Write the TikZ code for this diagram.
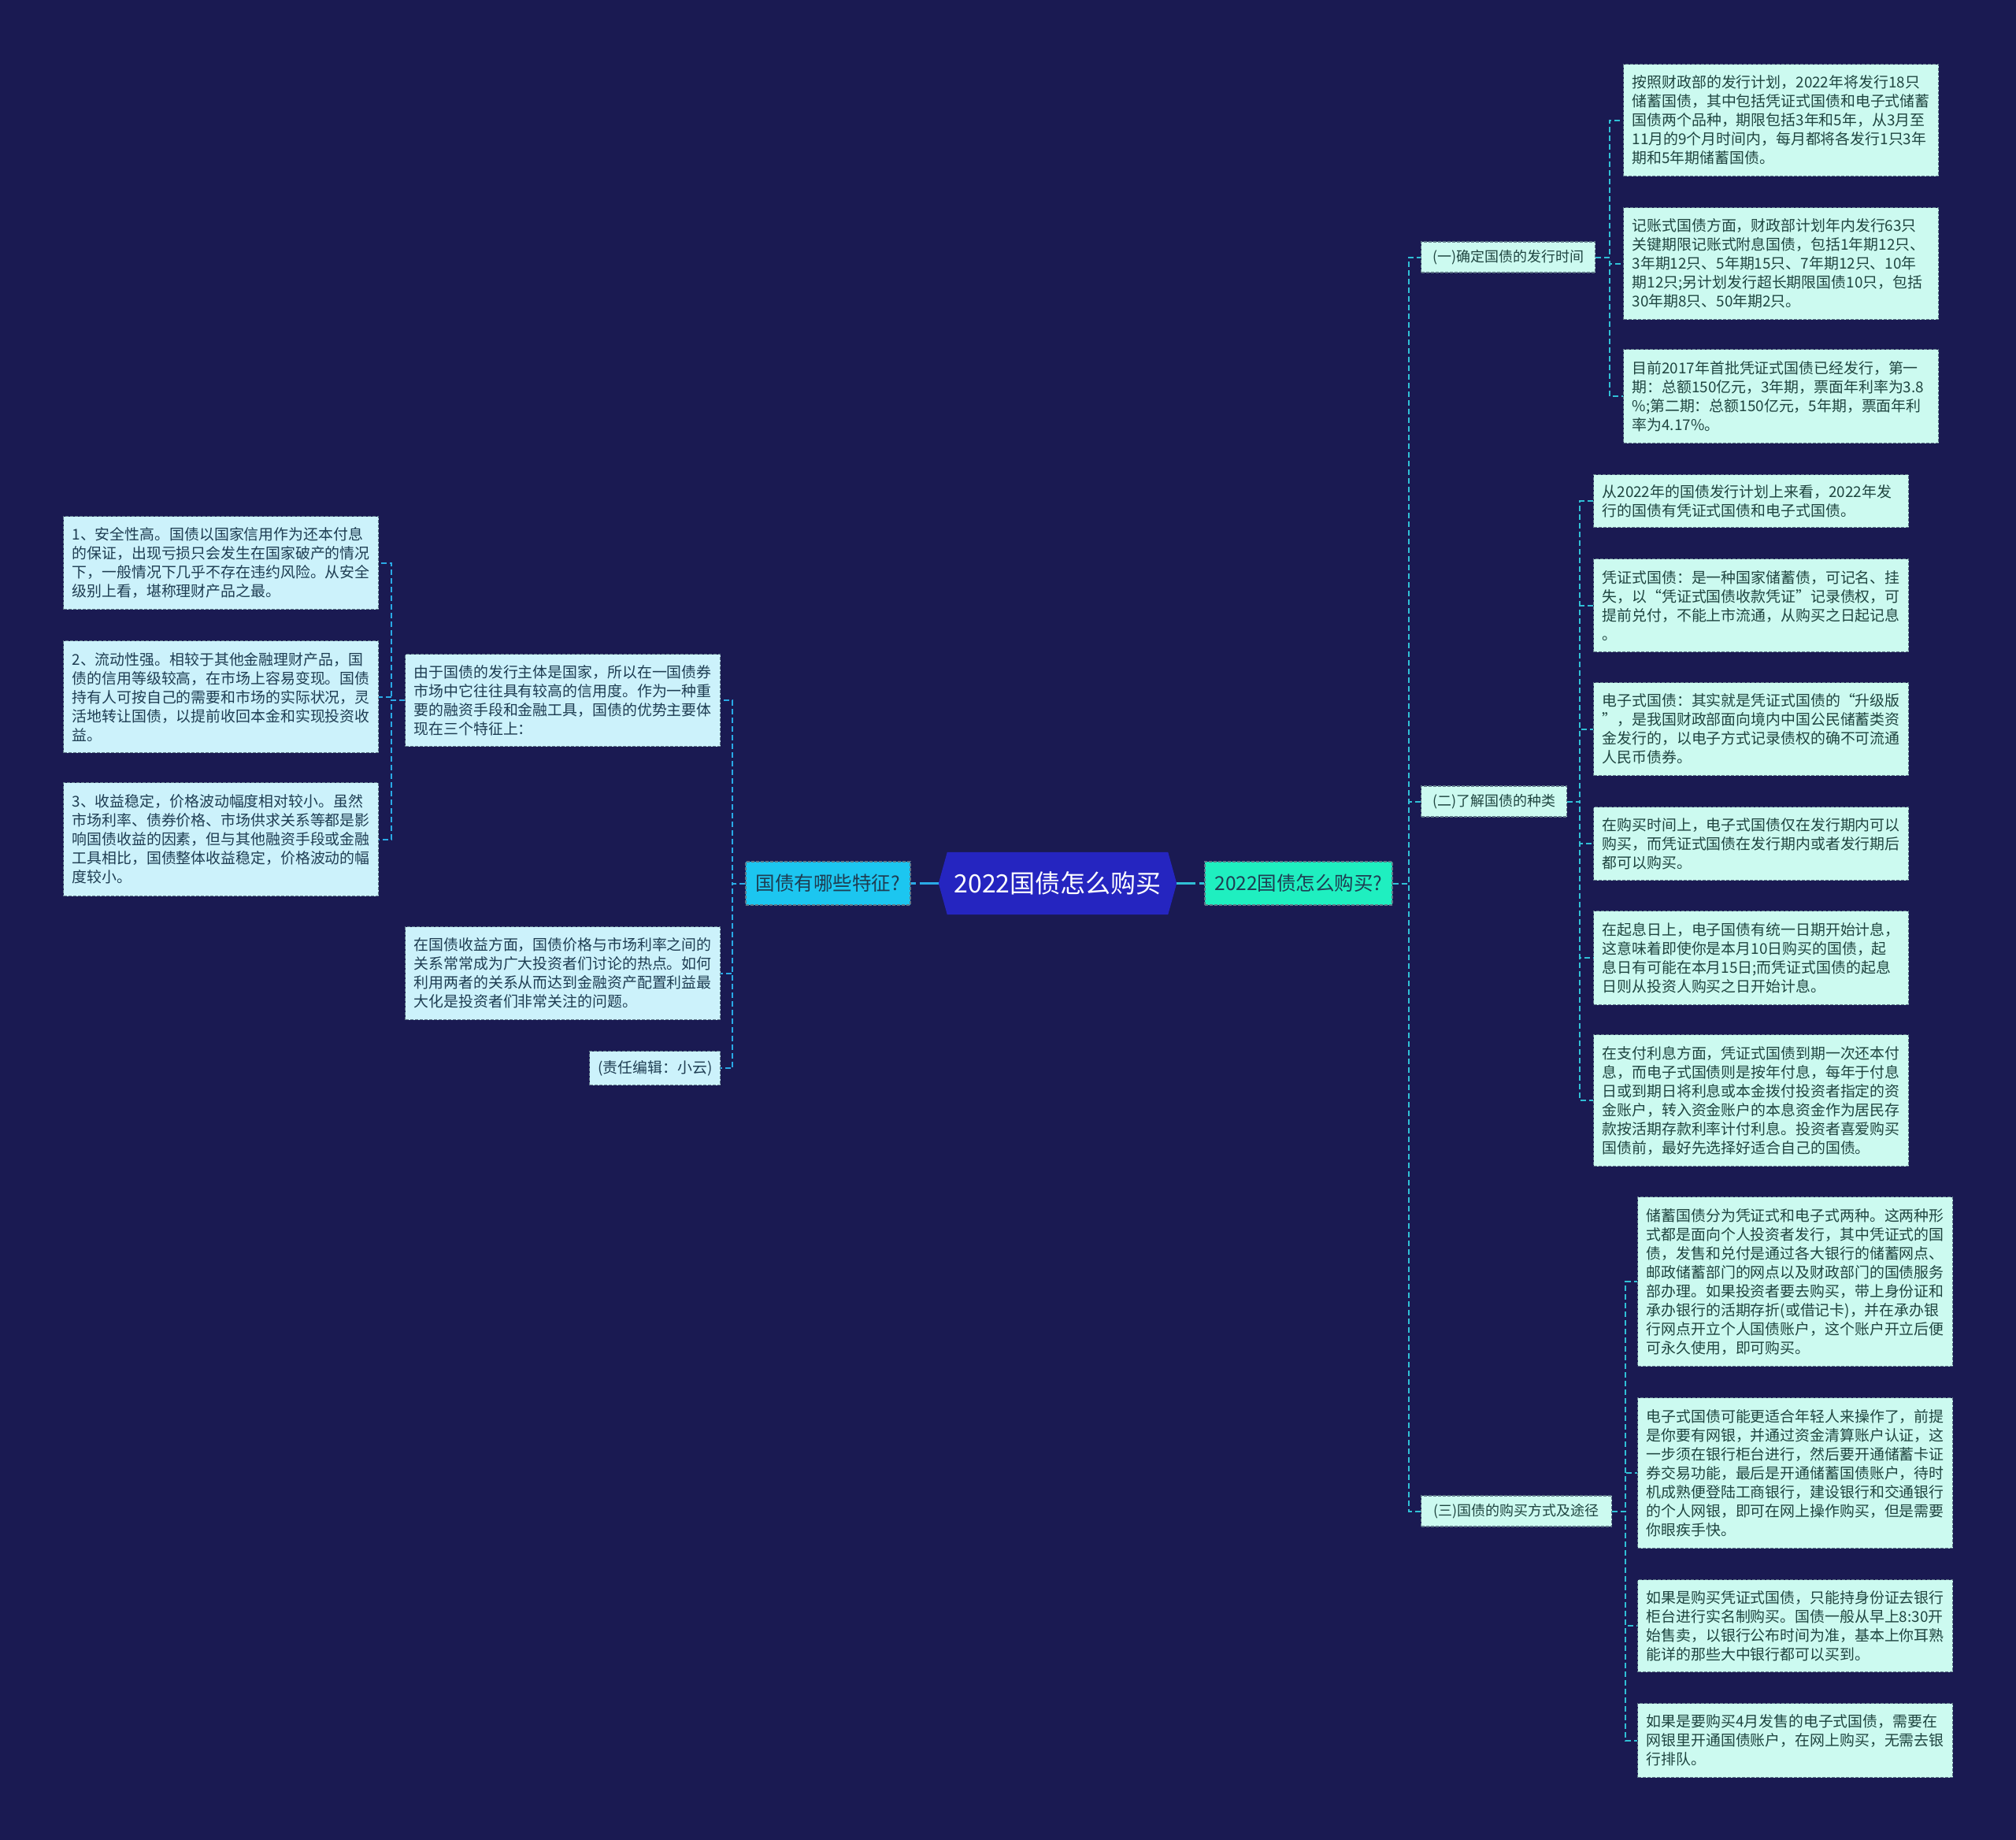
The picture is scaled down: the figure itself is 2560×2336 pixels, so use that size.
\documentclass[tikz,border=0pt]{standalone}
\usepackage{fontspec}
\setmainfont{Noto Sans CJK SC}
\usetikzlibrary{backgrounds}
\definecolor{bgc}{HTML}{1A1A52}
\definecolor{cfill}{HTML}{2525C0}
\definecolor{qlfill}{HTML}{1CC6F0}
\definecolor{qrfill}{HTML}{1FEFC0}
\definecolor{rfill}{HTML}{CCFAF0}
\definecolor{lfill}{HTML}{CCF2FB}
\definecolor{txt}{HTML}{1F4540}
\definecolor{ltxt}{HTML}{1E3D52}
\definecolor{bordc}{HTML}{5F7888}
\definecolor{rline}{HTML}{30C0D6}
\definecolor{lline}{HTML}{2AAAE6}
\tikzset{
  rbox/.style={draw=bordc, line width=1.2pt, dash pattern=on 4pt off 2pt, fill=rfill, text=txt,
    font=\fontsize{18.9}{24}\selectfont, text width=378pt, align=left,
    inner xsep=11pt, inner ysep=0pt, anchor=north west},
  lbox/.style={rbox, fill=lfill, text=ltxt},
  subbox/.style={draw=bordc, line width=1.2pt, dash pattern=on 4pt off 2pt, fill=rfill, text=txt,
    font=\fontsize{18}{20}\selectfont, inner xsep=8pt, inner ysep=0pt, minimum height=39pt, anchor=west},
  topbox/.style={draw=bordc, line width=1.2pt, dash pattern=on 4pt off 2pt, text=ltxt,
    font=\fontsize{24.5}{28}\selectfont, inner sep=0pt, minimum height=55pt},
  cnode/.style={text=white, font=\fontsize{32}{36}\selectfont, inner sep=0pt,
    minimum width=302pt, minimum height=79pt},
  rconn/.style={draw=rline, line width=2pt, dash pattern=on 7pt off 4pt},
  lconn/.style={draw=lline, line width=2pt, dash pattern=on 7pt off 4pt},
  mainconn/.style={line width=3pt, dash pattern=on 6pt off 5pt on 40pt off 5pt},
}
\begin{document}
\begin{tikzpicture}[x=1pt,y=-1pt]
\useasboundingbox (0,0) rectangle (2560,2336);

% centre
\node[cnode] (c) at (1343,1121.5) {2022国债怎么购买};
\node[topbox, fill=qlfill, minimum width=209pt] (ql) at (1051.5,1121.5) {国债有哪些特征?};
\node[topbox, fill=qrfill, minimum width=238pt] (qr) at (1649,1121.5) {2022国债怎么购买?};

% right level 2
\node[subbox, minimum width=221pt] (s1) at (1804,326.5) {(一)确定国债的发行时间};
\node[subbox, minimum width=185pt] (s2) at (1804,1017.5) {(二)了解国债的种类};
\node[subbox, minimum width=242pt] (s3) at (1804,1918.5) {(三)国债的购买方式及途径};

% (一) children
\node[rbox, minimum height=142pt] (t1) at (2061,81) {按照财政部的发行计划，2022年将发行18只\\储蓄国债，其中包括凭证式国债和电子式储蓄\\国债两个品种，期限包括3年和5年，从3月至\\11月的9个月时间内，每月都将各发行1只3年\\期和5年期储蓄国债。};
\node[rbox, minimum height=142pt] (t2) at (2061,263) {记账式国债方面，财政部计划年内发行63只\\关键期限记账式附息国债，包括1年期12只、\\3年期12只、5年期15只、7年期12只、10年\\期12只;另计划发行超长期限国债10只，包括\\30年期8只、50年期2只。};
\node[rbox, minimum height=119pt] (t3) at (2061,443) {目前2017年首批凭证式国债已经发行，第一\\期：总额150亿元，3年期，票面年利率为3.8\\\%;第二期：总额150亿元，5年期，票面年利\\率为4.17\%。};

% (二) children
\node[rbox, minimum height=67pt] (u1) at (2023,602) {从2022年的国债发行计划上来看，2022年发\\行的国债有凭证式国债和电子式国债。};
\node[rbox, minimum height=118pt] (u2) at (2023,709) {凭证式国债：是一种国家储蓄债，可记名、挂\\失，以“凭证式国债收款凭证”记录债权，可\\提前兑付，不能上市流通，从购买之日起记息\\。};
\node[rbox, minimum height=118pt] (u3) at (2023,866) {电子式国债：其实就是凭证式国债的“升级版\\”，是我国财政部面向境内中国公民储蓄类资\\金发行的，以电子方式记录债权的确不可流通\\人民币债券。};
\node[rbox, minimum height=93pt] (u4) at (2023,1024) {在购买时间上，电子式国债仅在发行期内可以\\购买，而凭证式国债在发行期内或者发行期后\\都可以购买。};
\node[rbox, minimum height=119pt] (u5) at (2023,1156) {在起息日上，电子国债有统一日期开始计息，\\这意味着即使你是本月10日购买的国债，起\\息日有可能在本月15日;而凭证式国债的起息\\日则从投资人购买之日开始计息。};
\node[rbox, minimum height=167pt] (u6) at (2023,1313) {在支付利息方面，凭证式国债到期一次还本付\\息，而电子式国债则是按年付息，每年于付息\\日或到期日将利息或本金拨付投资者指定的资\\金账户，转入资金账户的本息资金作为居民存\\款按活期存款利率计付利息。投资者喜爱购买\\国债前，最好先选择好适合自己的国债。};

% (三) children
\node[rbox, minimum height=215pt] (v1) at (2079,1519) {储蓄国债分为凭证式和电子式两种。这两种形\\式都是面向个人投资者发行，其中凭证式的国\\债，发售和兑付是通过各大银行的储蓄网点、\\邮政储蓄部门的网点以及财政部门的国债服务\\部办理。如果投资者要去购买，带上身份证和\\承办银行的活期存折(或借记卡)，并在承办银\\行网点开立个人国债账户，这个账户开立后便\\可永久使用，即可购买。};
\node[rbox, minimum height=191pt] (v2) at (2079,1774) {电子式国债可能更适合年轻人来操作了，前提\\是你要有网银，并通过资金清算账户认证，这\\一步须在银行柜台进行，然后要开通储蓄卡证\\券交易功能，最后是开通储蓄国债账户，待时\\机成熟便登陆工商银行，建设银行和交通银行\\的个人网银，即可在网上操作购买，但是需要\\你眼疾手快。};
\node[rbox, minimum height=117pt] (v3) at (2079,2005) {如果是购买凭证式国债，只能持身份证去银行\\柜台进行实名制购买。国债一般从早上8:30开\\始售卖，以银行公布时间为准，基本上你耳熟\\能详的那些大中银行都可以买到。};
\node[rbox, minimum height=94pt] (v4) at (2079,2162) {如果是要购买4月发售的电子式国债，需要在\\网银里开通国债账户，在网上购买，无需去银\\行排队。};

% left level 2
\node[lbox, minimum height=117pt] (a) at (514,830) {由于国债的发行主体是国家，所以在一国债券\\市场中它往往具有较高的信用度。作为一种重\\要的融资手段和金融工具，国债的优势主要体\\现在三个特征上：};
\node[lbox, minimum height=118pt] (b) at (514,1176) {在国债收益方面，国债价格与市场利率之间的\\关系常常成为广大投资者们讨论的热点。如何\\利用两者的关系从而达到金融资产配置利益最\\大化是投资者们非常关注的问题。};
\node[lbox, text width=144pt, minimum height=43pt] (cc) at (748,1334) {(责任编辑：小云)};

% left level 3
\node[lbox, minimum height=118pt] (w1) at (80,655) {1、安全性高。国债以国家信用作为还本付息\\的保证，出现亏损只会发生在国家破产的情况\\下，一般情况下几乎不存在违约风险。从安全\\级别上看，堪称理财产品之最。};
\node[lbox, minimum height=142pt] (w2) at (80,813) {2、流动性强。相较于其他金融理财产品，国\\债的信用等级较高，在市场上容易变现。国债\\持有人可按自己的需要和市场的实际状况，灵\\活地转让国债，以提前收回本金和实现投资收\\益。};
\node[lbox, minimum height=144pt] (w3) at (80,993) {3、收益稳定，价格波动幅度相对较小。虽然\\市场利率、债券价格、市场供求关系等都是影\\响国债收益的因素，但与其他融资手段或金融\\工具相比，国债整体收益稳定，价格波动的幅\\度较小。};

% connectors centre
\draw[lconn, mainconn] (ql.east) -- (c.west);
\draw[rconn, mainconn] (qr.west) -- (c.east);

% right trunk
\foreach \n in {s1,s2,s3} \draw[rconn] (qr.east) -- ++(20,0) |- (\n.west);
\foreach \n in {t1,t2,t3} \draw[rconn] (s1.east) -- ++(18,0) |- (\n.west);
\foreach \n in {u1,u2,u3,u4,u5,u6} \draw[rconn] (s2.east) -- ++(16,0) |- (\n.west);
\foreach \n in {v1,v2,v3,v4} \draw[rconn] (s3.east) -- ++(17,0) |- (\n.west);

% left trunk
\foreach \n in {a,b,cc} \draw[lconn] (ql.west) -- ++(-16,0) |- (\n.east);
\foreach \n in {w1,w2,w3} \draw[lconn] (a.west) -- ++(-17,0) |- (\n.east);

\begin{pgfonlayer}{background}
\fill[bgc] (0,0) rectangle (2560,2336);
\fill[cfill] ([xshift=11pt]c.north west) -- ([xshift=-11pt]c.north east) -- (c.east)
  -- ([xshift=-11pt]c.south east) -- ([xshift=11pt]c.south west) -- (c.west) -- cycle;
\end{pgfonlayer}
\end{tikzpicture}
\end{document}
